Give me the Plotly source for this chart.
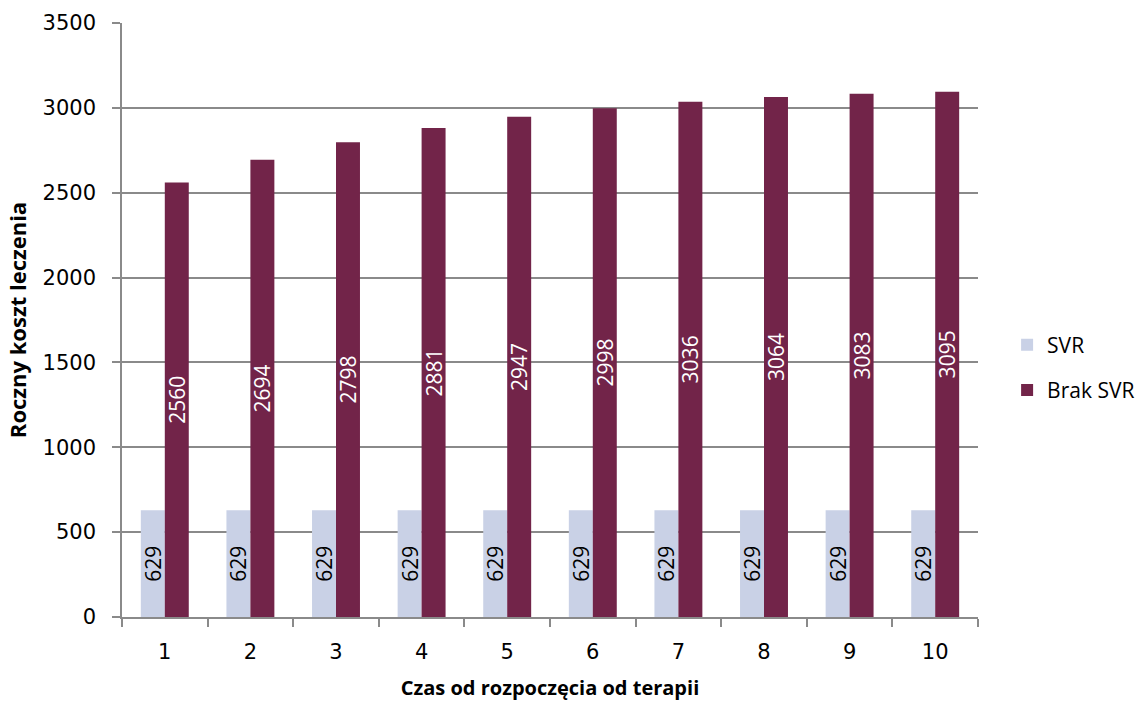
import plotly.graph_objects as go

years = ["1", "2", "3", "4", "5", "6", "7", "8", "9", "10"]
svr = [629, 629, 629, 629, 629, 629, 629, 629, 629, 629]
brak_svr = [2560, 2694, 2798, 2881, 2947, 2998, 3036, 3064, 3083, 3095]
y_ticks = [0, 500, 1000, 1500, 2000, 2500, 3000, 3500]

FONT = "DejaVu Sans"
LBL = "Open Sans"
GRID = "#8a8a8a"

fig = go.Figure()
fig.add_trace(go.Bar(
    x=years, y=svr, name="SVR", legendgroup="a",
    marker=dict(color="#C9D1E6", line=dict(width=0)),
    text=[str(v) for v in svr], textposition="inside", insidetextanchor="middle",
    textangle=-90, textfont=dict(color="#000000", size=21, family=LBL),
))
fig.add_trace(go.Bar(
    x=years, y=brak_svr, name="Brak SVR", legendgroup="b",
    marker=dict(color="#722449", line=dict(width=0)),
    text=[str(v) for v in brak_svr], textposition="inside", insidetextanchor="middle",
    textangle=-90, textfont=dict(color="#ffffff", size=21, family=LBL),
))

fig.update_layout(
    width=1135, height=704,
    margin=dict(l=122, r=157, t=23, b=87, autoexpand=False),
    paper_bgcolor="white", plot_bgcolor="white",
    barmode="group", bargap=0.44, bargroupgap=0,
    uniformtext=dict(minsize=21, mode="show"),
    font=dict(family=FONT, size=21, color="#000000"),
    legend=dict(x=1.034, y=0.42, xanchor="left", yanchor="middle",
                font=dict(family=LBL, size=21), tracegroupgap=15,
                itemwidth=30, bgcolor="rgba(0,0,0,0)"),
    showlegend=True,
)
fig.update_xaxes(
    type="category", tickson="boundaries", ticks="outside", ticklen=8,
    tickcolor=GRID, tickwidth=1.5, showline=True, linecolor=GRID, linewidth=1.5,
    showgrid=False, tickfont=dict(family=FONT, size=21), ticklabelstandoff=15,
    title=dict(text="<b>Czas od rozpoczęcia od terapii</b>", font=dict(family=LBL, size=20), standoff=18),
)
fig.update_yaxes(
    range=[0, 3500], tickvals=y_ticks, ticks="outside", ticklen=8,
    tickcolor=GRID, tickwidth=1.5, showline=True, linecolor=GRID, linewidth=1.5,
    showgrid=True, gridcolor=GRID, gridwidth=1.5, zeroline=False,
    tickfont=dict(family=FONT, size=21), ticklabelstandoff=12,
    title=dict(text="<b>Roczny koszt leczenia</b>", font=dict(family=LBL, size=22), standoff=10),
)

fig.write_html("out.html")
